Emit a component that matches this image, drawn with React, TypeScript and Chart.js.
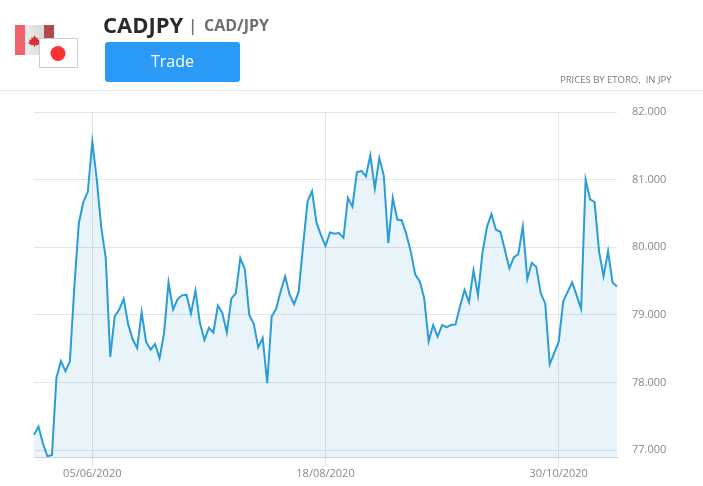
import React, { useEffect, useRef } from "react";
import { Chart, registerables } from "chart.js";

Chart.register(...registerables);

const prices = [
  77.23, 77.35, 77.10, 76.91, 76.93, 78.07, 78.32, 78.17, 78.31, 79.42,
  80.36, 80.67, 80.82, 81.56, 81.00, 80.29, 79.84, 78.38, 78.98, 79.08,
  79.24, 78.86, 78.64, 78.51, 79.04, 78.60, 78.49, 78.57, 78.36, 78.73,
  79.48, 79.08, 79.23, 79.29, 79.30, 79.02, 79.36, 78.88, 78.63, 78.81,
  78.74, 79.14, 79.03, 78.74, 79.24, 79.32, 79.84, 79.68, 79.00, 78.87,
  78.52, 78.66, 77.99, 78.98, 79.09, 79.35, 79.57, 79.30, 79.16, 79.34,
  80.02, 80.68, 80.83, 80.36, 80.18, 80.02, 80.22, 80.20, 80.21, 80.14,
  80.73, 80.60, 81.11, 81.13, 81.05, 81.36, 80.87, 81.32, 81.06, 80.06,
  80.73, 80.41, 80.40, 80.20, 79.94, 79.60, 79.50, 79.25, 78.61, 78.85,
  78.68, 78.85, 78.82, 78.85, 78.86, 79.13, 79.37, 79.19, 79.66, 79.29,
  79.92, 80.30, 80.49, 80.26, 80.23, 79.96, 79.69, 79.85, 79.90, 80.31,
  79.53, 79.77, 79.71, 79.32, 79.17, 78.27, 78.44, 78.60, 79.20, 79.34,
  79.48, 79.29, 79.09, 81.00, 80.71, 80.67, 79.94, 79.57, 79.94, 79.48,
  79.42,
];
const dateTickIndices = [13, 65, 117];
const dateTickLabels = ["05/06/2020", "18/08/2020", "30/10/2020"];
const priceTicks = [77, 78, 79, 80, 81, 82];

const FONT = '"Open Sans", sans-serif';

const abs = (style: React.CSSProperties): React.CSSProperties => ({
  position: "absolute",
  whiteSpace: "nowrap",
  fontFamily: FONT,
  ...style,
});

export default function App() {
  const ref = useRef<HTMLCanvasElement>(null);

  useEffect(() => {
    document.body.style.margin = "0";
    const chart = new Chart(ref.current!, {
      type: "line",
      data: {
        labels: prices.map((_, i) => String(i)),
        datasets: [
          {
            data: prices,
            borderColor: "#2a9cd8",
            borderWidth: 2,
            backgroundColor: "rgba(40,140,205,0.105)",
            fill: "start",
            pointRadius: 0,
            tension: 0,
          },
        ],
      },
      options: {
        animation: false,
        responsive: false,
        layout: { padding: { left: 34, top: 112, right: 0, bottom: 0 } },
        plugins: { legend: { display: false }, tooltip: { enabled: false } },
        scales: {
          x: {
            type: "category",
            offset: false,
            grid: { color: "#e3e6e9", lineWidth: 1, tickLength: 10, tickColor: "#e3e6e9" },
            border: { color: "#c6d0de", width: 1 },
            afterBuildTicks: (axis: any) => {
              axis.ticks = dateTickIndices.map((value) => ({ value }));
            },
            afterFit: (axis: any) => {
              axis.height = 29;
            },
            ticks: {
              autoSkip: false,
              maxRotation: 0,
              padding: 0,
              color: "#888888",
              font: { family: FONT, size: 11 },
              callback: (value: any) => dateTickLabels[dateTickIndices.indexOf(Number(value))] ?? "",
            },
          },
          y: {
            position: "right",
            min: 76.9,
            max: 82,
            grid: { color: "#e3e6e9", lineWidth: 1, drawTicks: false },
            border: { display: false },
            afterBuildTicks: (axis: any) => {
              axis.ticks = priceTicks.map((value) => ({ value }));
            },
            afterFit: (axis: any) => {
              axis.width = 86;
            },
            ticks: {
              padding: 15,
              color: "#888888",
              font: { family: FONT, size: 11 },
              callback: (value: any) => Number(value).toFixed(3),
            },
          },
        },
      },
    });
    return () => chart.destroy();
  }, []);

  return (
    <div style={{ position: "relative", width: 703, height: 486, overflow: "hidden", background: "#fff" }}>
      <canvas ref={ref} width={703} height={486} style={{ position: "absolute", left: 0, top: 0, display: "block" }} />
      <svg width={80} height={72} style={{ position: "absolute", left: 0, top: 0 }}>
        <defs>
          <linearGradient id="w" x1="0" x2="1" y1="0" y2="0">
            <stop offset="0" stopColor="#f6f6f6" />
            <stop offset="1" stopColor="#cfcfcf" />
          </linearGradient>
        </defs>
        <rect x={15} y={25} width={39} height={30} fill="url(#w)" />
        <rect x={15} y={25} width={10} height={30} fill="#f2606a" />
        <rect x={44} y={25} width={10} height={30} fill="#b04a4c" />
        <path d="M34.5 35 L36 38 L38 37.5 L37.5 40 L40 39.5 L39.5 42 L41 43 L37 45.5 L35 45 V47 H34 V45 L32 45.5 L28 43 L29.5 42 L29 39.5 L31.5 40 L31 37.5 L33 38 Z" fill="#d3343a" />
        <rect x={39.5} y={38.5} width={38} height={29} fill="#fff" stroke="#cccccc" strokeWidth={1} />
        <circle cx={58} cy={53.5} r={7.5} fill="#f93232" />
      </svg>
      <div style={abs({ left: 103, top: 9, fontSize: 22, lineHeight: "30px", fontWeight: 700, color: "#2b2b2b" })}>CADJPY</div>
      <div style={abs({ left: 188, top: 12, fontSize: 17, lineHeight: "26px", fontWeight: 600, color: "#6f6f6f" })}>|</div>
      <div style={abs({ left: 204, top: 12, fontSize: 16, lineHeight: "26px", fontWeight: 700, color: "#6f6f6f" })}>CAD/JPY</div>
      <div
        style={abs({
          left: 105,
          top: 42,
          width: 135,
          height: 40,
          borderRadius: 3,
          background: "#2b9af7",
          color: "#ffffff",
          fontSize: 16,
          lineHeight: "39px",
          textAlign: "center",
        })}
      >
        Trade
      </div>
      <div style={abs({ left: 560, top: 73, fontSize: 9.5, lineHeight: "14px", color: "#85796b" })}>PRICES BY ETORO,&nbsp; IN JPY</div>
      <div style={{ position: "absolute", left: 0, top: 90, width: 703, height: 1, background: "#e6e6e6" }} />
    </div>
  );
}
